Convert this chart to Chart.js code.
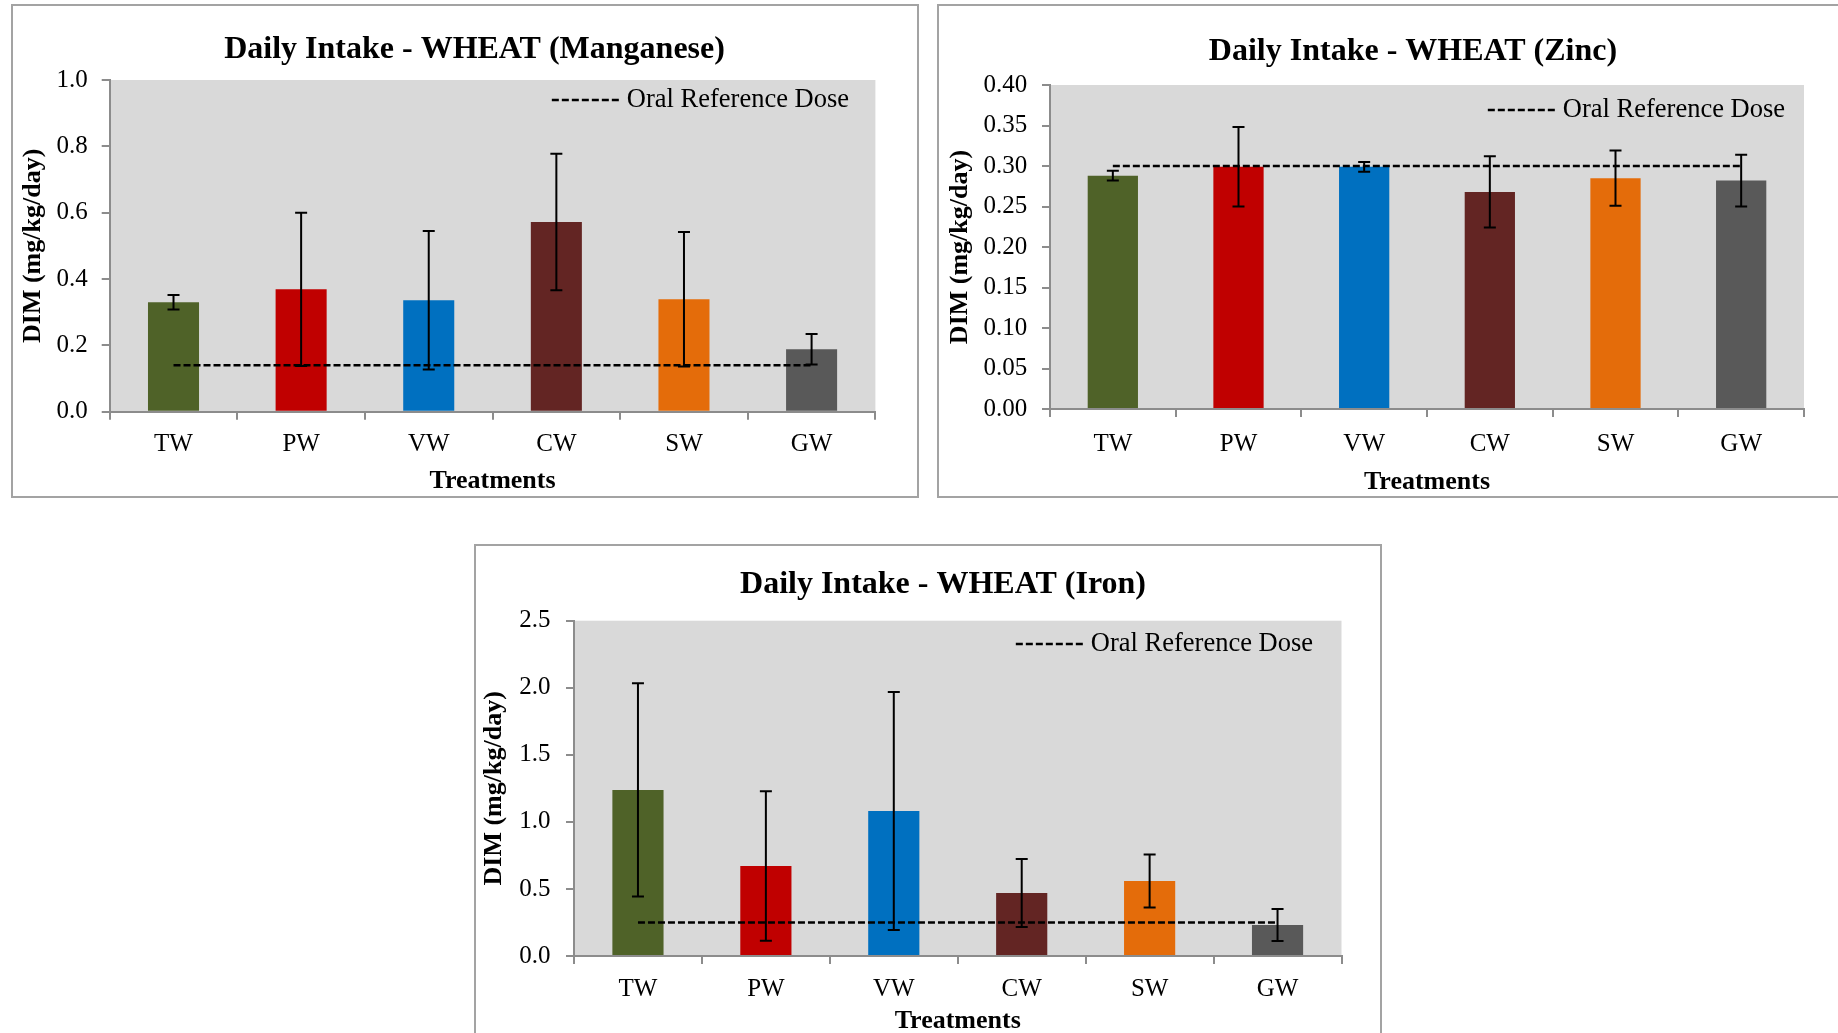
<!DOCTYPE html>
<html>
<head>
<meta charset="utf-8">
<title>Daily Intake - WHEAT</title>
<script src="https://cdn.jsdelivr.net/npm/chart.js@4.4.1/dist/chart.umd.min.js"></script>
<style>
  html, body { margin: 0; padding: 0; background: #fff; overflow: hidden; }
  body { width: 1838px; height: 1033px; position: relative; }
  .frame { position: absolute; border: 2px solid #a3a3a3; background: #fff; }
  .frame canvas { display: block; }
</style>
</head>
<body>

<div class="frame" style="left:11px;top:4px;width:904px;height:490px;">
  <canvas id="chart-mn" width="904" height="490"></canvas>
</div>
<div class="frame" style="left:937px;top:4px;width:906px;height:490px;">
  <canvas id="chart-zn" width="906" height="490"></canvas>
</div>
<div class="frame" style="left:474px;top:544px;width:904px;height:496px;">
  <canvas id="chart-fe" width="904" height="496"></canvas>
</div>

<script>
// ============================================================
//  Data
// ============================================================

const categories = ['TW', 'PW', 'VW', 'CW', 'SW', 'GW'];
const barColors  = ['#4F6228', '#C00000', '#0070C0', '#632523', '#E46C0A', '#595959'];

// Manganese
const mnMean  = [0.330, 0.369, 0.336, 0.572, 0.339, 0.188];
const mnErr   = [0.022, 0.231, 0.209, 0.206, 0.203, 0.046];
const mnRfd   = [0.14, 0.14, 0.14, 0.14, 0.14, 0.14];
const mnTicks = [0, 0.2, 0.4, 0.6, 0.8, 1.0];

// Zinc
const znMean  = [0.288, 0.299, 0.299, 0.268, 0.285, 0.282];
const znErr   = [0.006, 0.049, 0.006, 0.044, 0.034, 0.032];
const znRfd   = [0.30, 0.30, 0.30, 0.30, 0.30, 0.30];
const znTicks = [0, 0.05, 0.10, 0.15, 0.20, 0.25, 0.30, 0.35, 0.40];

// Iron
const feMean  = [1.238, 0.671, 1.081, 0.470, 0.559, 0.231];
const feErr   = [0.795, 0.557, 0.887, 0.253, 0.198, 0.119];
const feRfd   = [0.25, 0.25, 0.25, 0.25, 0.25, 0.25];
const feTicks = [0, 0.5, 1.0, 1.5, 2.0, 2.5];

// ============================================================
//  Shared look
// ============================================================

const SERIF     = '"Liberation Serif", "Times New Roman", serif';
const AXIS_GRAY = '#8c8c8c';
const PLOT_BG   = '#d9d9d9';

// grey plot area like Excel
const plotBgPlugin = {
  id: 'plotBg',
  beforeDraw(chart, args, opts) {
    const a = chart.chartArea;
    const ctx = chart.ctx;
    ctx.save();
    ctx.fillStyle = opts.color;
    ctx.fillRect(a.left, a.top, a.right - a.left, a.bottom - a.top);
    ctx.restore();
  }
};

// title sits a bit left of the plot centre (Excel centres it on the whole frame)
const panelTitlePlugin = {
  id: 'panelTitle',
  afterDraw(chart, args, opts) {
    const a = chart.chartArea;
    const ctx = chart.ctx;
    ctx.save();
    ctx.font = opts.font;
    ctx.fillStyle = '#000';
    ctx.textAlign = 'center';
    ctx.textBaseline = 'alphabetic';
    ctx.fillText(opts.text, (a.left + a.right) / 2 + opts.dx, opts.baseline);
    ctx.restore();
  }
};

// +/- error bars on top of the bar dataset
const errorBarPlugin = {
  id: 'errorBars',
  afterDatasetDraw(chart, args, opts) {
    if (args.meta.type !== 'bar' || !opts.errors) return;
    const yScale = chart.scales.y;
    const values = chart.data.datasets[args.index].data;
    const ctx = chart.ctx;
    const cap = opts.capWidth / 2;
    ctx.save();
    ctx.strokeStyle = '#000';
    ctx.lineWidth = 2;
    args.meta.data.forEach(function(bar, i) {
      const top = yScale.getPixelForValue(values[i] + opts.errors[i]);
      const bot = yScale.getPixelForValue(values[i] - opts.errors[i]);
      ctx.beginPath();
      ctx.moveTo(bar.x, top);       ctx.lineTo(bar.x, bot);
      ctx.moveTo(bar.x - cap, top); ctx.lineTo(bar.x + cap, top);
      ctx.moveTo(bar.x - cap, bot); ctx.lineTo(bar.x + cap, bot);
      ctx.stroke();
    });
    ctx.restore();
  }
};

// legend entry sitting inside the plot, top right
const refLegendPlugin = {
  id: 'refLegend',
  afterDraw(chart, args, opts) {
    const ds = chart.data.datasets.find(d => d.type === 'line');
    if (!ds) return;
    const a = chart.chartArea;
    const ctx = chart.ctx;
    const y = a.top + opts.top;
    const xRight = a.right - opts.right;
    ctx.save();
    ctx.font = opts.font;
    ctx.fillStyle = '#000';
    ctx.textAlign = 'right';
    ctx.textBaseline = 'middle';
    ctx.fillText(ds.label, xRight, y);
    const lineEnd = xRight - ctx.measureText(ds.label).width - opts.gap;
    ctx.strokeStyle = ds.borderColor;
    ctx.lineWidth = ds.borderWidth;
    ctx.setLineDash(ds.borderDash);
    ctx.beginPath();
    ctx.moveTo(lineEnd - opts.length, y);
    ctx.lineTo(lineEnd, y);
    ctx.stroke();
    ctx.restore();
  }
};

function buildChart(canvasId, title, means, errors, rfd, yTicks, decimals, L) {
  const canvas = document.getElementById(canvasId);
  const tickFont = { family: SERIF, size: 25 };
  const axisTitleFont = { family: SERIF, size: 26, weight: 'bold' };

  return new Chart(canvas, {
    data: {
      labels: categories,
      datasets: [
        {
          type: 'line',
          label: 'Oral Reference Dose',
          data: rfd,
          borderColor: '#000',
          borderWidth: 2.5,
          borderDash: [7, 3],
          pointRadius: 0,
          fill: false,
          order: 0
        },
        {
          type: 'bar',
          label: 'DIM',
          data: means,
          backgroundColor: barColors,
          borderWidth: 0,
          barPercentage: 0.4,
          categoryPercentage: 1,
          order: 1
        }
      ]
    },
    options: {
      responsive: false,
      animation: false,
      layout: { padding: { left: 0, right: L.padRight, top: L.padTop, bottom: 0 } },
      plugins: {
        legend: { display: false },
        tooltip: { enabled: false },
        title: { display: false },
        plotBg: { color: PLOT_BG },
        panelTitle: { text: title, font: 'bold 32px ' + SERIF, dx: L.titleDx, baseline: L.titleBase },
        errorBars: { errors: errors, capWidth: 12 },
        refLegend: { font: '26.5px ' + SERIF, right: L.legRight, top: L.legTop, gap: 7, length: 68 }
      },
      scales: {
        x: {
          type: 'category',
          offset: true,
          border: { color: AXIS_GRAY, width: 2, z: 1 },
          grid: { offset: true, drawOnChartArea: false, tickLength: 8, color: AXIS_GRAY, lineWidth: 2 },
          ticks: { color: '#000', font: tickFont, padding: L.xTickPad },
          title: { display: true, text: 'Treatments', color: '#000', font: axisTitleFont,
                   padding: { top: 0, bottom: L.xTitlePad } },
          afterFit: function(s) { s.height = L.xHeight; }
        },
        y: {
          min: yTicks[0],
          max: yTicks[yTicks.length - 1],
          border: { color: AXIS_GRAY, width: 2 },
          grid: { drawOnChartArea: false, tickLength: 8, color: AXIS_GRAY, lineWidth: 2 },
          ticks: { color: '#000', font: tickFont, padding: L.yTickPad,
                   callback: function(v) { return Number(v).toFixed(decimals); } },
          afterBuildTicks: function(s) { s.ticks = yTicks.map(v => ({ value: v })); },
          title: { display: true, text: 'DIM (mg/kg/day)', color: '#000', font: axisTitleFont,
                   padding: { top: L.yTitlePad, bottom: 0 } },
          afterFit: function(s) { s.width = L.yWidth; }
        }
      }
    },
    plugins: [plotBgPlugin, errorBarPlugin, refLegendPlugin, panelTitlePlugin]
  });
}

buildChart('chart-mn', 'Daily Intake - WHEAT (Manganese)', mnMean, mnErr, mnRfd, mnTicks, 1, {
  padTop: 74, padRight: 41.6, titleDx: -18, titleBase: 52.3,
  yWidth: 96.7, xHeight: 84.3, yTickPad: 14, yTitlePad: 4.9,
  xTickPad: 9.8, xTitlePad: -1.1, legRight: 26.4, legTop: 20
});

buildChart('chart-zn', 'Daily Intake - WHEAT (Zinc)', znMean, znErr, znRfd, znTicks, 2, {
  padTop: 79, padRight: 41, titleDx: -14, titleBase: 54,
  yWidth: 111, xHeight: 87, yTickPad: 14.7, yTitlePad: 5.7,
  xTickPad: 12.2, xTitlePad: -1.6, legRight: 19, legTop: 25
});

buildChart('chart-fe', 'Daily Intake - WHEAT (Iron)', feMean, feErr, feRfd, feTicks, 1, {
  padTop: 74.7, padRight: 38.5, titleDx: -14.75, titleBase: 47.3,
  yWidth: 98, xHeight: 86, yTickPad: 15.6, yTitlePad: 3.1,
  xTickPad: 10.2, xTitlePad: 4.9, legRight: 28.5, legTop: 23.3
});
</script>
</body>
</html>
